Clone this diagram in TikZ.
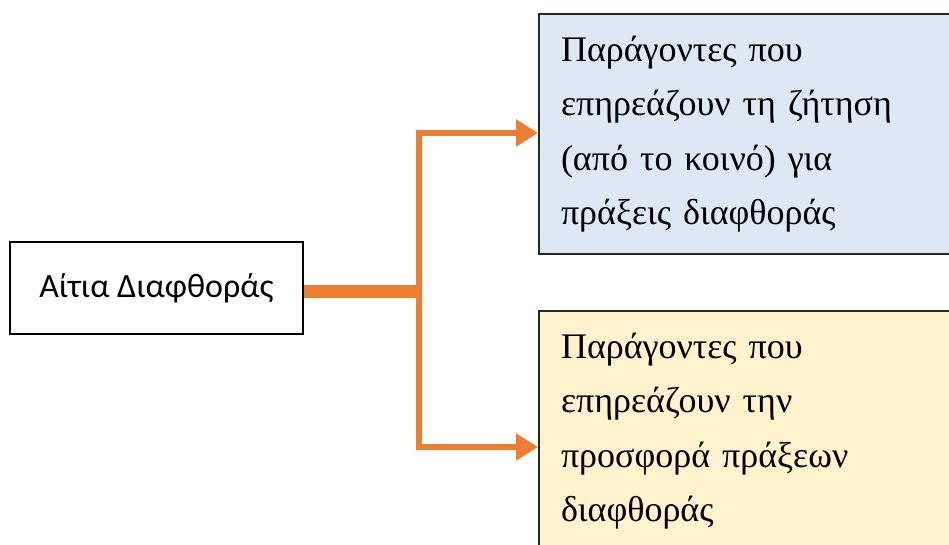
\documentclass[tikz,border=0pt]{standalone}
\usepackage{fontspec}
\setmainfont{Liberation Serif}
\newfontfamily\labelfont{Carlito}
\usetikzlibrary{arrows.meta}
\definecolor{accentorange}{HTML}{ED7D31}
\definecolor{demandblue}{HTML}{DEE8F4}
\definecolor{supplygold}{HTML}{FFF2CC}

\begin{document}
\begin{tikzpicture}[x=1pt,y=-1pt,
  causebox/.style={draw=black, line width=2.5pt, fill=white, minimum width=293pt,
    minimum height=92pt, inner sep=0pt, font=\labelfont\fontsize{34}{40}\selectfont},
  factorbox/.style={draw=black!85, line width=2pt, anchor=north west, text width=380pt,
    minimum height=240pt, inner xsep=22pt, inner ysep=0pt, align=left,
    font=\fontsize{36}{54.3}\selectfont},
  feed/.style={draw=accentorange, line width=13pt},
  branch/.style={draw=accentorange, line width=6pt, line join=miter,
    {Triangle[length=22pt,width=26pt]}-{Triangle[length=22pt,width=26pt]}}
]
\useasboundingbox (0,0) rectangle (949,545);
\clip (0,0) rectangle (949,545);

% cause and the two groups of factors
\node[causebox] (cause) at (156.5,288) {Αίτια Διαφθοράς};
\node[factorbox, fill=demandblue] (demand) at (538,13)
  {Παράγοντες που\\επηρεάζουν τη ζήτηση\\(από το κοινό) για\\πράξεις διαφθοράς};
\node[factorbox, fill=supplygold] (supply) at (538,310)
  {Παράγοντες που\\επηρεάζουν την\\προσφορά πράξεων\\διαφθοράς};

% branching connector
\coordinate (hub) at (419,291);
\coordinate (hubend) at (422,291);
\coordinate (hubtop) at (419,133);
\coordinate (hubbot) at (419,447);
\draw[feed] (cause.east |- hub) -- (hubend);
\draw[branch] (demand.west |- hubtop) -- (hubtop) -- (hubbot) -- (supply.west |- hubbot);
\end{tikzpicture}
\end{document}
